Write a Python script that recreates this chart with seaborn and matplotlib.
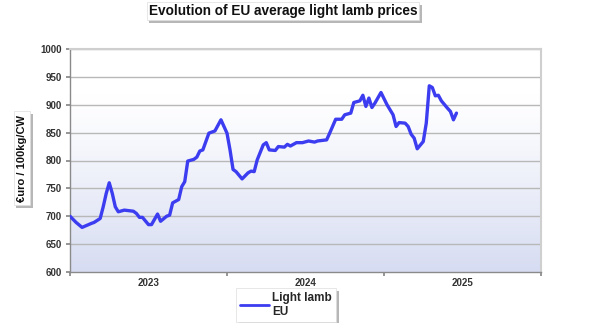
import numpy as np
import pandas as pd
import matplotlib
matplotlib.use("Agg")
import matplotlib.pyplot as plt
import matplotlib.patheffects as pe
import seaborn as sns

# Week index counted from the first week of 2023
weeks = [0, 2, 4, 7, 8, 10, 11, 12, 13, 14, 15, 16, 18, 21, 22, 23, 24, 26, 27, 29, 30,
         32, 33, 34, 36, 37, 38, 39, 41, 42, 43, 44, 45, 46, 48, 50, 52, 53, 54, 55, 57,
         59, 60, 61, 62, 64, 65, 66, 68, 69, 71, 72, 73, 75, 77, 79, 81, 82, 85, 86, 88,
         90, 91, 93, 94, 96, 97, 98, 99, 100, 101, 103, 105, 107, 108, 109, 111, 112, 113, 114, 115,
         117, 118, 119, 120, 121, 122, 123, 125, 126, 127, 128]
prices = [700, 689, 680, 687, 689, 696, 717, 741, 760, 741, 717, 708, 711, 709, 705, 698, 698, 685, 685, 704, 691,
          700, 702, 724, 730, 753, 762, 799, 802, 806, 817, 819, 834, 849, 853, 873, 849, 819, 784, 780, 767,
          778, 781, 780, 801, 828, 832, 819, 818, 825, 824, 829, 826, 832, 832, 835, 833, 835, 837, 849, 874,
          874, 882, 885, 904, 907, 917, 897, 912, 895, 903, 922, 900, 882, 861, 868, 867, 861, 847, 840, 821,
          834, 867, 934, 931, 916, 917, 907, 894, 888, 873, 885]
series_name = "Light lamb\nEU"
year_labels = ["2023", "2024", "2025"]
year_ticks = [26, 78, 130]
year_bounds = [0, 52, 104, 156]
y_ticks = [600, 650, 700, 750, 800, 850, 900, 950, 1000]

df = pd.DataFrame({"week": weeks, "price": prices, "series": series_name})

sns.set_theme(style="white")
plt.rcParams["font.family"] = ["Liberation Sans", "DejaVu Sans"]

fig = plt.figure(figsize=(6.0, 3.23), dpi=100)
ax = fig.add_axes([70/600, 1 - 272/323, 471/600, 223/323])

# background gradient: white at top, pale blue at bottom
grad = np.linspace(0, 1, 256).reshape(-1, 1)
top = np.array([1.0, 1.0, 1.0])
bot = np.array([214, 220, 242]) / 255.0
t = np.clip((grad - 0.2) / 0.8, 0, 1) ** 1.2
img = top * (1 - t) + bot * t
img = img.reshape(256, 1, 3)
ax.imshow(img, extent=[0, 1, 0, 1], transform=ax.transAxes, aspect="auto", zorder=0)

sns.lineplot(data=df, x="week", y="price", hue="series", palette=["#3c3cf0"],
             linewidth=2.4, ax=ax, zorder=3)

ax.set_xlim(0, 156)
ax.set_ylim(600, 1000)
ax.set_yticks(y_ticks)
ax.set_yticklabels([str(v) for v in y_ticks], fontsize=7, fontweight="bold", color="#333333")
for v in y_ticks[1:]:
    ax.axhline(v, color="#b8b8b8", linewidth=1.0, zorder=1)

ax.set_xticks(year_bounds)
ax.set_xticklabels([""] * len(year_bounds))
ax.set_xticks(year_ticks, minor=True)
ax.set_xticklabels(year_labels, minor=True, fontsize=7, fontweight="bold", color="#333333")
ax.tick_params(axis="x", which="minor", length=0, pad=4)
ax.tick_params(axis="x", which="major", length=3, color="#888888", direction="out", bottom=True)
ax.tick_params(axis="y", length=3, color="#888888", direction="out", left=True, pad=3)

for s in ["left", "bottom"]:
    ax.spines[s].set_color("#8a8a8a")
    ax.spines[s].set_linewidth(1.0)
for s in ["top", "right"]:
    ax.spines[s].set_color("#cfcfcf")
    ax.spines[s].set_linewidth(1.5)

ax.set_xlabel("")
ax.set_ylabel("")

shadow = [pe.withSimplePatchShadow(offset=(2, -2), shadow_rgbFace="#888888", alpha=0.6)]

title = fig.text(283/600, 1 - 11/323, "Evolution of EU average light lamb prices",
                 ha="center", va="center", fontsize=9.8, fontweight="bold", color="#111111",
                 bbox=dict(boxstyle="square,pad=0.15", fc="white", ec="#dddddd", lw=0.5))
title.get_bbox_patch().set_path_effects(shadow)

ylab = fig.text(22/600, 1 - 158/323, "€uro / 100kg/CW", rotation=90,
                ha="center", va="center", fontsize=8, fontweight="bold", color="#111111",
                bbox=dict(boxstyle="square,pad=0.3", fc="white", ec="#dddddd", lw=0.5))
ylab.get_bbox_patch().set_path_effects(shadow)

ax.legend_.remove()
handles, labels = ax.get_legend_handles_labels()
leg = fig.legend(handles, labels, loc="upper center", bbox_to_anchor=(286/600, 1 - 288/323),
                 frameon=True, fancybox=False, handlelength=2.4,
                 borderpad=0.35, borderaxespad=0.0, handletextpad=0.3,
                 prop={"weight": "bold", "size": 8.5})
leg.get_frame().set_facecolor("white")
leg.get_frame().set_alpha(1.0)
leg.get_frame().set_edgecolor("#dddddd")
leg.get_frame().set_linewidth(0.5)
leg.get_frame().set_path_effects(shadow)
for line in leg.get_lines():
    line.set_linewidth(2.0)

fig.savefig("out.png", dpi=100)
